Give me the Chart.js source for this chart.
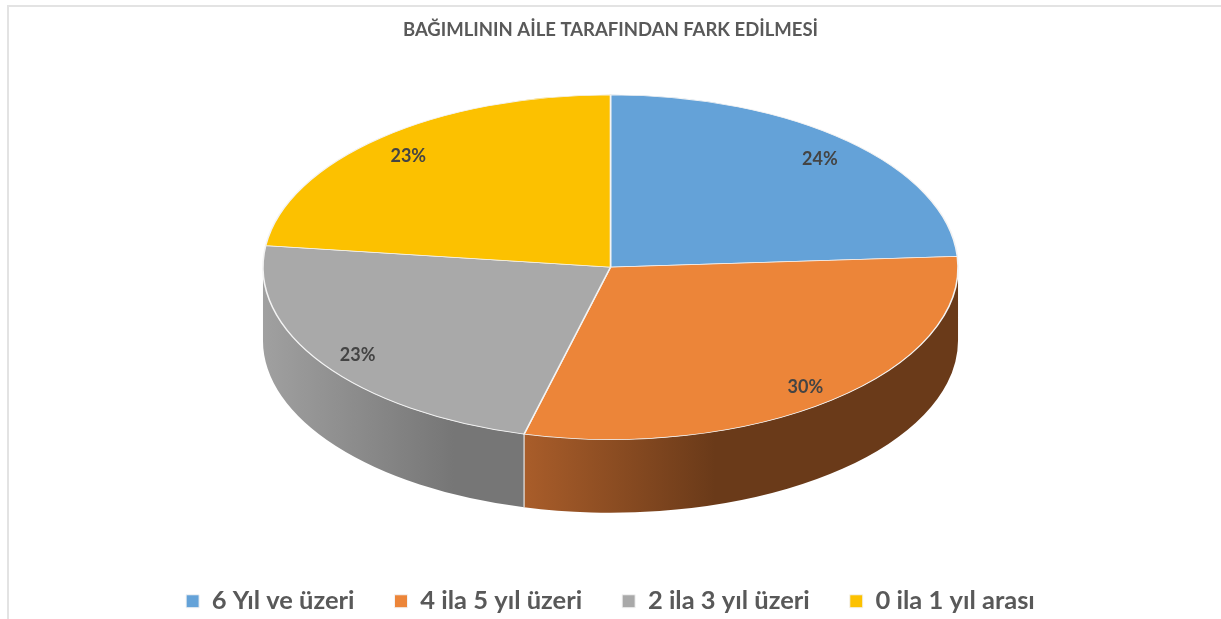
<!DOCTYPE html>
<html>
<head>
<meta charset="utf-8">
<script src="https://cdn.jsdelivr.net/npm/chart.js@4"></script>
<style>
html,body{margin:0;padding:0;background:#fff;overflow:hidden;}
#wrap{position:relative;width:1221px;height:619px;overflow:hidden;}
#frame{position:absolute;left:7px;top:5px;width:1230px;height:630px;border-left:2px solid #e3e3e3;border-top:2px solid #e3e3e3;}
#wrap canvas{position:absolute;left:0;top:0;}
</style>
</head>
<body>
<div id="wrap"><div id="frame"></div><canvas id="c" width="1221" height="624"></canvas></div>
<script>
const chartTitle = 'BAĞIMLININ AİLE TARAFINDAN FARK EDİLMESİ';
const categories = ['6 Yıl ve üzeri', '4 ila 5 yıl üzeri', '2 ila 3 yıl üzeri', '0 ila 1 yıl arası'];
const percentages = [24, 30, 23, 23];
const topColors = ['#64a2d8', '#ec8539', '#a9a9a9', '#fcc100'];
const sideLight = ['#4f86b8', '#a95d2a', '#a0a0a0', '#d9a400'];
const sideDark = ['#2f5f8a', '#6a3a19', '#767676', '#9c7500'];

const pie3d = {
  id: 'pie3d',
  beforeDatasetsDraw(chart, args, opts) {
    const arcs = chart.getDatasetMeta(0).data;
    if (!arcs.length) return;
    const {x: cx, y: cy, outerRadius: r} = arcs[0];
    const rx = r * opts.stretch, ry = r * opts.tilt, d = r * opts.depth;
    const ctx = chart.ctx;
    ctx.save();
    arcs.forEach((arc, i) => {
      const a1 = Math.max(arc.startAngle, 0), a2 = Math.min(arc.endAngle, Math.PI);
      if (a2 <= a1) return;
      const xr = cx + rx * Math.cos(a1), xl = cx + rx * Math.cos(a2);
      const g = ctx.createLinearGradient(xl, 0, xr, 0);
      const fade = Math.min(1, rx * opts.fade / Math.max(1, xr - xl));
      g.addColorStop(0, sideLight[i]);
      g.addColorStop(fade, sideDark[i]);
      g.addColorStop(1, sideDark[i]);
      ctx.beginPath();
      ctx.ellipse(cx, cy, rx, ry, 0, a1, a2, false);
      ctx.ellipse(cx, cy + d, rx, ry, 0, a2, a1, true);
      ctx.closePath();
      ctx.fillStyle = g;
      ctx.fill();
    });
    ctx.strokeStyle = '#e4e4e4';
    ctx.lineWidth = 1.2;
    arcs.forEach(arc => {
      const a = arc.endAngle;
      if (a > 0.01 && a < Math.PI - 0.01) {
        const x = cx + rx * Math.cos(a), y = cy + ry * Math.sin(a);
        ctx.beginPath();
        ctx.moveTo(x, y);
        ctx.lineTo(x, y + d);
        ctx.stroke();
      }
    });
    ctx.restore();
    ctx.save();
    ctx.translate(cx, cy);
    ctx.scale(opts.stretch, opts.tilt);
    ctx.translate(-cx, -cy);
  },
  afterDatasetsDraw(chart, args, opts) {
    const ctx = chart.ctx;
    ctx.restore();
    const arcs = chart.getDatasetMeta(0).data;
    if (!arcs.length) return;
    const {x: cx, y: cy, outerRadius: r} = arcs[0];
    const rx = r * opts.stretch, ry = r * opts.tilt;
    ctx.save();
    ctx.font = 'bold 18px Lato';
    ctx.fillStyle = '#444444';
    ctx.textAlign = 'center';
    ctx.textBaseline = 'middle';
    arcs.forEach((arc, i) => {
      const m = (arc.startAngle + arc.endAngle) / 2;
      const f = opts.labelPos;
      ctx.fillText(percentages[i] + '%', cx + rx * f * Math.cos(m), cy + ry * f * Math.sin(m) + 3);
    });
    ctx.restore();
  }
};

new Chart(document.getElementById('c'), {
  type: 'pie',
  data: {
    labels: categories,
    datasets: [{
      data: percentages,
      backgroundColor: topColors,
      borderColor: '#f3f3f3',
      borderWidth: 1,
      clip: false
    }]
  },
  options: {
    responsive: false,
    animation: false,
    events: [],
    layout: {padding: 0},
    plugins: {
      pie3d: {stretch: 1.613, tilt: 0.80, depth: 0.34, fade: 0.55, labelPos: 0.88},
      tooltip: {enabled: false},
      title: {
        display: true,
        text: chartTitle,
        color: '#595959',
        font: {family: 'Lato', size: 18.5, weight: 'bold'},
        padding: {top: 19, bottom: 10}
      },
      legend: {
        position: 'bottom',
        title: {display: true, text: '', font: {size: 12}, padding: {top: 0, bottom: 51}},
        labels: {
          color: '#595959',
          font: {family: 'Lato', size: 25.5, weight: 'bold'},
          boxWidth: 13,
          boxHeight: 13,
          padding: 40
        }
      }
    }
  },
  plugins: [pie3d]
});
</script>
</body>
</html>
